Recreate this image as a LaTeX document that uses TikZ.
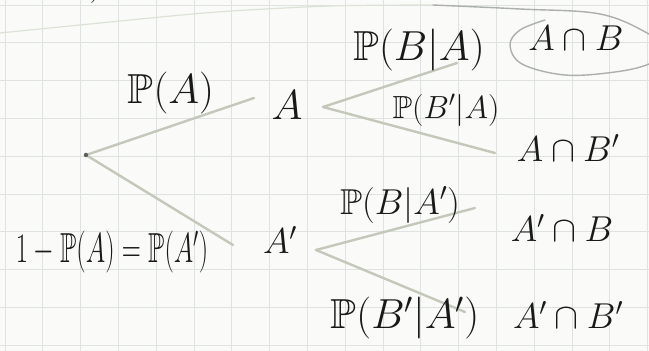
\RequirePackage{fix-cm}
\documentclass[tikz,border=0pt]{standalone}
\usepackage{amssymb}
\usepackage{graphicx}
\definecolor{paper}{RGB}{250,250,248}
\definecolor{gridc}{RGB}{222,226,224}
\definecolor{ink}{RGB}{25,25,25}
\definecolor{branchc}{RGB}{196,200,186}
\definecolor{faintc}{RGB}{220,227,214}
\definecolor{loopc}{RGB}{172,176,170}
\pgfdeclarelayer{lines}
\pgfsetlayers{lines,main}
\tikzset{
  hw/.style={text=ink, inner sep=1pt},
  hwbig/.style={hw, font=\fontsize{42}{46}\selectfont},
  hwmid/.style={hw, font=\fontsize{36}{40}\selectfont},
  hwsmall/.style={hw, font=\fontsize{32}{36}\selectfont},
  branch/.style={draw=branchc, line width=2.4pt, line cap=round},
  rootdot/.style={circle, fill=ink!70, inner sep=1.6pt},
}
\begin{document}
\begin{tikzpicture}[x=1pt, y=-1pt]
\useasboundingbox (0,0) rectangle (649,351);
\begin{pgfonlayer}{lines}
\fill[paper] (0,0) rectangle (649,351);
% grid paper
\foreach \i in {0,...,17} {
  \draw[gridc, line width=1pt] ({5+37.8*\i},0) -- ({5+37.8*\i},351);
}
\foreach \j in {0,...,9} {
  \draw[gridc, line width=1pt] (0,{5+37.8*\j}) -- (649,{5+37.8*\j});
}
% faint stroke along the top and loop round A cap B
\draw[faintc, line width=1.2pt, line cap=round] plot[smooth] coordinates {(0,33) (110,22) (217,12) (330,6) (433,5)};
\draw[loopc, line width=1.4pt, line cap=round] plot[smooth, tension=0.6] coordinates {(433,5) (520,9) (600,14) (649,34) (668,50) (649,64) (615,72) (565,75) (522,64) (510,45) (520,30) (545,20)};
\end{pgfonlayer}

% cut-off writing at the top
\node[hwmid] (topcut) at (88,-14) {$.\,)$};

% nodes
\node[rootdot] (root) at (86,155) {};
\node[hwbig] (PA) at (171,93) {$\mathbb{P}(A)$};
\node[hwbig] (A) at (287,105) {$A$};
\node[hwbig] (PBA) at (419,50) {$\mathbb{P}(B|A)$};
\node[hwsmall] (PBpA) at (446,110) {$\mathbb{P}(B'|A)$};
\node[hwmid] (AB) at (576,38) {$A\cap B$};
\node[hwmid] (ABp) at (568,148) {$A\cap B'$};

\node[hw, font=\fontsize{42}{46}\selectfont] (PAp) at (112,252) {\scalebox{0.63}[1]{$1-\mathbb{P}(A)=\mathbb{P}(A')$}};
\node[hwmid] (Ap) at (280,240) {$A'$};
\node[hwmid] (PBAp) at (400,205) {$\mathbb{P}(B|A')$};
\node[hwmid] (ApB) at (562,228) {$A'\cap B$};
\node[hwbig] (PBpAp) at (405,318) {$\mathbb{P}(B'|A')$};
\node[hwmid] (ApBp) at (568,315) {$A'\cap B'$};

% branches (drawn under the writing)
\begin{pgfonlayer}{lines}
\draw[branch] (root) -- ([shift={(-33,-7)}]A.center);
\draw[branch] (root) -- ([shift={(-47,5)}]Ap.center);
\draw[branch] ([shift={(36,2)}]A.center) -- ([shift={(-119,25)}]AB.center);
\draw[branch] ([shift={(36,2)}]A.center) -- ([shift={(-73,5)}]ABp.center);
\draw[branch] ([shift={(36,10)}]Ap.center) -- ([shift={(-87,-20)}]ApB.center);
\draw[branch] ([shift={(36,10)}]Ap.center) -- ([shift={(-103,-3)}]ApBp.center);
\end{pgfonlayer}
\end{tikzpicture}
\end{document}
